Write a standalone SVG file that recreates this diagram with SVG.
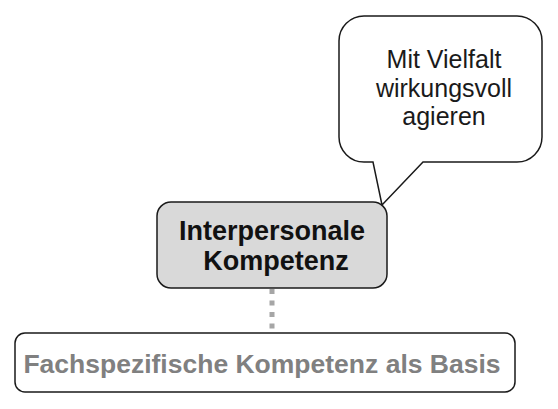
<svg xmlns="http://www.w3.org/2000/svg" width="558" height="409" viewBox="0 0 558 409">
<style>
.box{stroke:#1a1a1a;stroke-width:1.5}
.t{font-family:"Liberation Sans",Arial,sans-serif;text-anchor:middle}
</style>
<rect width="558" height="409" fill="#ffffff"/>
<g id="connectors">
<line x1="272" y1="289" x2="272" y2="332" stroke="#a6a6a6" stroke-width="5" stroke-dasharray="5 6.5"/>
</g>
<g id="callout">
<path class="box" fill="#ffffff" d="M364,16 H517 A25,25 0 0 1 542,41 V137 A25,25 0 0 1 517,162 H423 L382,205 L373,162 H364 A25,25 0 0 1 339,137 V41 A25,25 0 0 1 364,16 Z"/>
<text class="t" font-size="25" fill="#1a1a1a"><tspan x="444" y="68">Mit Vielfalt</tspan><tspan x="444" y="97">wirkungsvoll</tspan><tspan x="444" y="125">agieren</tspan></text>
</g>
<g id="interpersonal">
<rect class="box" x="157" y="202" width="230" height="86" rx="14" fill="#d9d9d9"/>
<text class="t" font-size="27" font-weight="bold" fill="#111111"><tspan x="272" y="240">Interpersonale</tspan><tspan x="276" y="270">Kompetenz</tspan></text>
</g>
<g id="fachspezifisch">
<rect class="box" x="15" y="333" width="500" height="59" rx="10" fill="#ffffff"/>
<text class="t" x="262" y="373" font-size="26.5" font-weight="bold" fill="#808080">Fachspezifische Kompetenz als Basis</text>
</g>
</svg>
